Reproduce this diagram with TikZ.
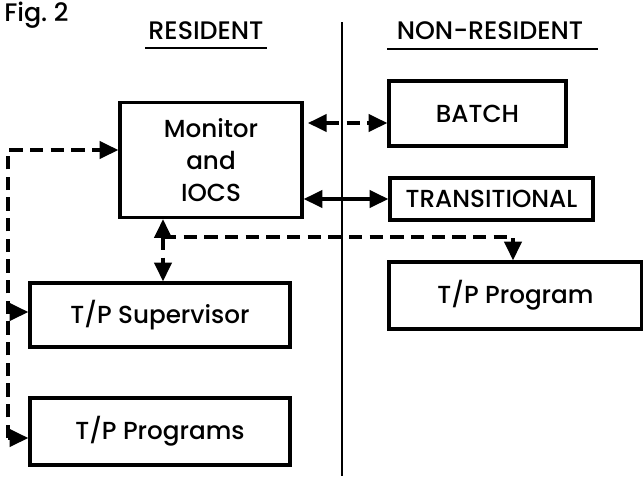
\documentclass[tikz,border=0pt]{standalone}
\usepackage{fontspec}
\setmainfont{Poppins Medium}
\usetikzlibrary{arrows.meta,calc}
\begin{document}
\begin{tikzpicture}[x=0.75pt,y=-0.75pt,
  box/.style={draw,line width=2.6pt,inner sep=0pt,font=\fontsize{18.5}{24}\selectfont,align=center},
  con/.style={line width=2.4pt},
  dsh/.style={con,dash pattern=on 10pt off 5.5pt},
  tip/.style={-{Triangle[length=14pt,width=13pt]}},
  tips/.style={{Triangle[length=14pt,width=13pt]}-{Triangle[length=14pt,width=13pt]}},
  hdr/.style={font=\fontsize{19}{21}\selectfont}]
\useasboundingbox (0,0) rectangle (643,476);
% headings
\node[hdr,anchor=west,inner sep=0pt] (fig) at (4,15) {Fig.\ 2};
\node[hdr] (res) at (206,31) {RESIDENT};
\node[hdr] (nres) at (490,31) {NON-RESIDENT};
\coordinate (ra) at (145,48); \coordinate (rb) at (267,48);
\coordinate (na) at (387,49); \coordinate (nb) at (598,49);
\draw[line width=2.2pt] (ra) -- (rb);
\draw[line width=2.2pt] (na) -- (nb);
% divider
\coordinate (dtop) at (342,22); \coordinate (dbot) at (342,476);
\draw[line width=2.2pt] (dtop) -- (dbot);
% boxes
\node[box,minimum width=136.5pt,minimum height=86.25pt] (mon) at (211,160) {Monitor\\and\\IOCS};
\node[box,minimum width=132.75pt,minimum height=48.75pt] (batch) at (477.5,113.5) {BATCH};
\node[box,minimum width=152.25pt,minimum height=31.5pt] (trans) at (491.5,199) {TRANSITIONAL};
\node[box,minimum width=189.75pt,minimum height=50.25pt] (tpp) at (515.5,295.5) {T/P Program};
\node[box,minimum width=195pt,minimum height=48pt] (sup) at (160,315) {T/P Supervisor};
\node[box,minimum width=195pt,minimum height=50.25pt] (prg) at (160,431.5) {T/P Programs};
% right connectors
\coordinate (bl) at (308,123);
\draw[dsh,tips] (bl) -- (batch.west |- bl);
\draw[con,tips] (mon.east |- trans.west) -- (trans.west);
% junction below monitor
\coordinate (j) at (163,237);
\coordinate (jr) at (513,237);
\draw[dsh,tip] (j) -- (mon.south -| j);
\draw[dsh,tip] (j) -- (sup.north -| j);
\draw[dsh,tip] (j) -- (jr) -- (tpp.north -| jr);
% left loop
\coordinate (lt) at (8,150);
\coordinate (lm) at (8,312);
\coordinate (lb) at (8,438);
\draw[dsh,tip] (lb) -- (lt) -- (mon.west |- lt);
\draw[con,tip] (lm) -- (sup.west |- lm);
\draw[con,tip] (lb) -- (prg.west |- lb);
\end{tikzpicture}
\end{document}
